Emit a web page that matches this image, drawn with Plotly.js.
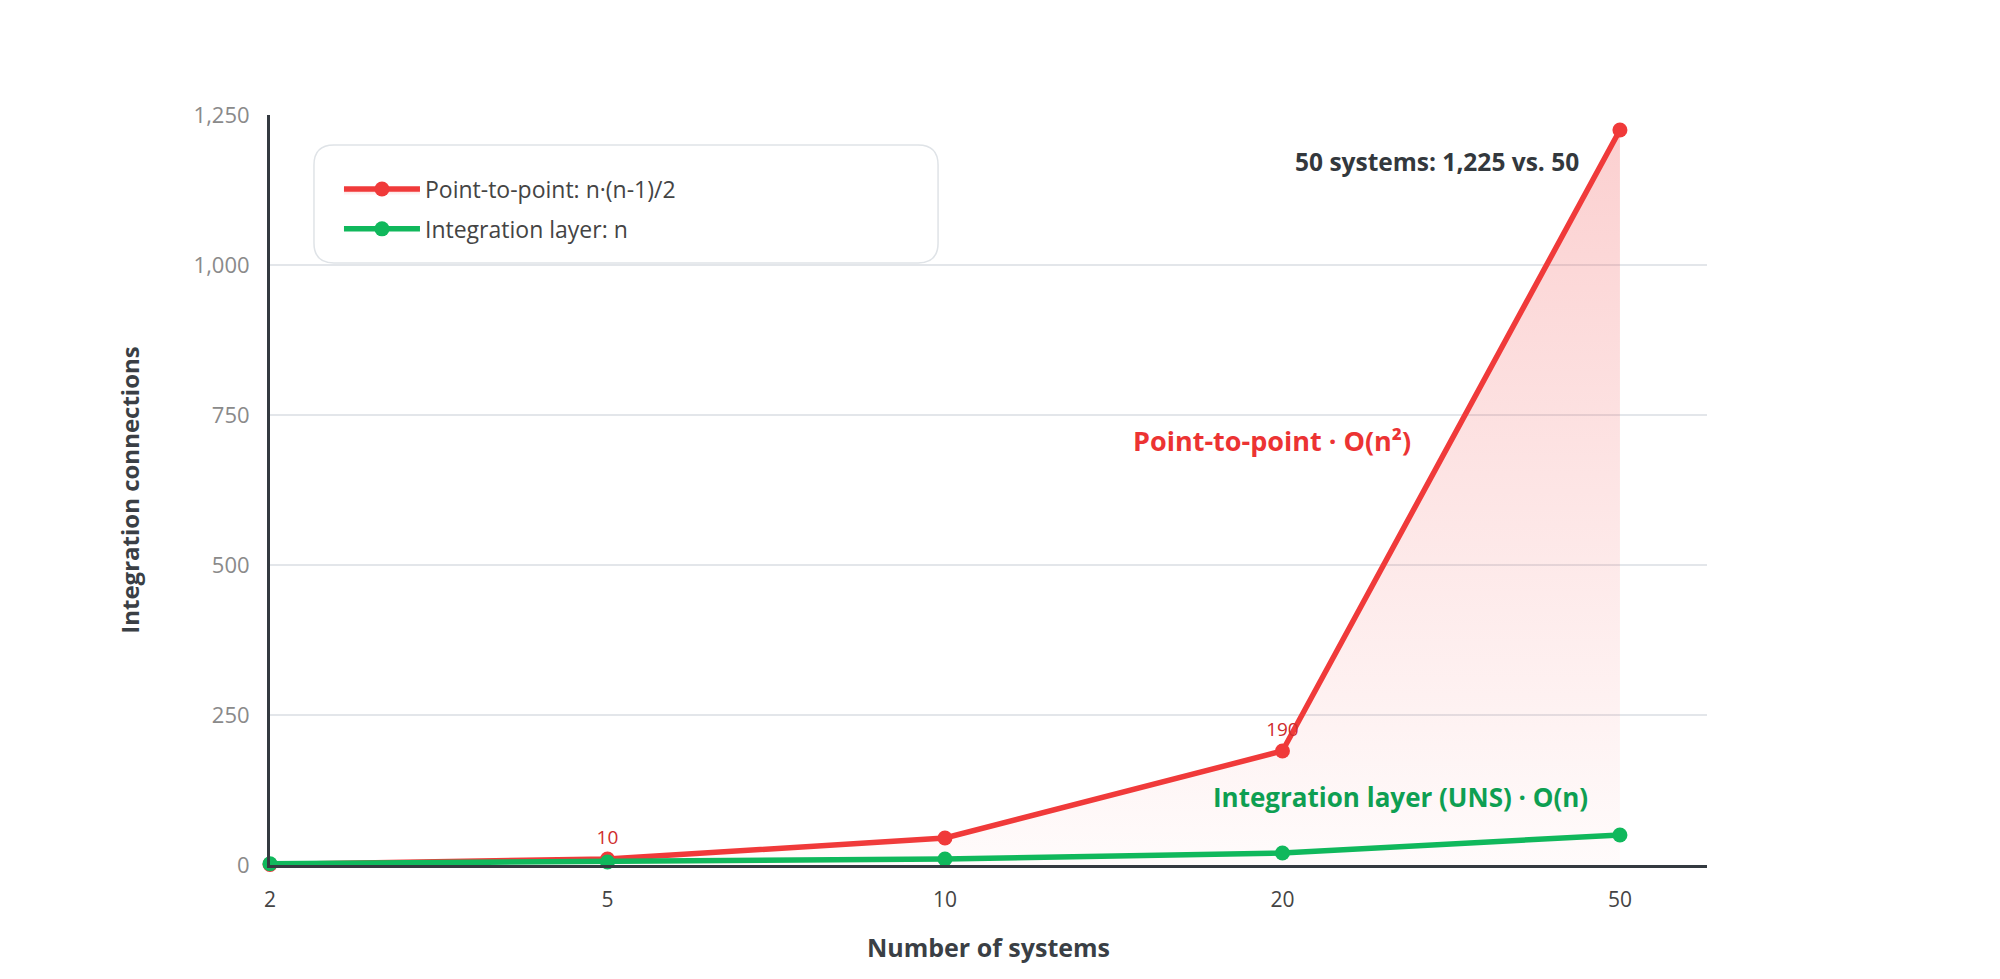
<!DOCTYPE html>
<html>
<head>
<meta charset="utf-8">
<script src="https://cdn.plot.ly/plotly-3.0.1.min.js"></script>
<style>html,body{margin:0;padding:0;background:#fff;}#chart{width:2000px;height:979px;}</style>
</head>
<body>
<div id="chart"></div>
<script>
const systems = ['2', '5', '10', '20', '50'];
const pointToPoint = [1, 10, 45, 190, 1225];
const integrationLayer = [2, 5, 10, 20, 50];
const p2pLabels = ['', '10', '', '190', ''];
const yTickVals = [0, 250, 500, 750, 1000, 1250];
const yTickText = ['0', '250', '500', '750', '1,000', '1,250'];

const RED = '#f03a3a';
const GREEN = '#10b85c';
const FONT = '"Open Sans", Lato, sans-serif';

const traces = [
  {
    x: systems, y: pointToPoint, name: 'Point-to-point: n·(n-1)/2',
    type: 'scatter', mode: 'lines+markers+text',
    text: p2pLabels, textposition: 'top center',
    textfont: {family: FONT, size: 19, color: '#cf2c2c'},
    line: {color: RED, width: 5.5},
    marker: {color: RED, size: 15},
    fill: 'tozeroy',
    fillgradient: {type: 'vertical', colorscale: [[0, 'rgba(240,58,58,0.02)'], [1, 'rgba(240,58,58,0.24)']]},
    cliponaxis: false, legendgroup: 'a', hoverinfo: 'x+y'
  },
  {
    x: systems, y: integrationLayer, name: 'Integration layer: n',
    type: 'scatter', mode: 'lines+markers',
    line: {color: GREEN, width: 5.5},
    marker: {color: GREEN, size: 15},
    cliponaxis: false, legendgroup: 'b', hoverinfo: 'x+y'
  }
];

// rounded legend frame in paper coords
function roundRect(x0, y0, x1, y1, rx, ry) {
  return `M${x0+rx},${y1} L${x1-rx},${y1} Q${x1},${y1} ${x1},${y1-ry} L${x1},${y0+ry} Q${x1},${y0} ${x1-rx},${y0} L${x0+rx},${y0} Q${x0},${y0} ${x0},${y0+ry} L${x0},${y1-ry} Q${x0},${y1} ${x0+rx},${y1} Z`;
}

const layout = {
  width: 2000, height: 979,
  paper_bgcolor: '#ffffff', plot_bgcolor: '#ffffff',
  margin: {l: 270, r: 293, t: 115, b: 114},
  font: {family: FONT, color: '#444'},
  showlegend: true,
  legend: {
    x: 0.048, y: 0.93, xanchor: 'left', yanchor: 'top',
    bgcolor: 'rgba(0,0,0,0)', borderwidth: 0,
    font: {family: FONT, size: 23, color: '#444'},
    traceorder: 'grouped', tracegroupgap: 7, itemwidth: 76
  },
  xaxis: {
    type: 'category', range: [0, 4.258],
    showgrid: false, zeroline: false,
    showline: true, linecolor: '#343a40', linewidth: 3,
    ticks: '', ticklabelstandoff: 14,
    tickfont: {family: FONT, size: 21, color: '#444'},
    title: {text: 'Number of systems', font: {family: FONT, size: 25, color: '#3a3f45', weight: 'bold'}, standoff: 28},
    fixedrange: true
  },
  yaxis: {
    range: [0, 1250],
    tickvals: yTickVals, ticktext: yTickText,
    showgrid: true, gridcolor: '#e3e6ea', gridwidth: 1.5,
    zeroline: false,
    showline: true, linecolor: '#343a40', linewidth: 3,
    ticks: '', ticklabelstandoff: 13,
    tickfont: {family: FONT, size: 22, color: '#8a8a8a'},
    title: {text: 'Integration connections', font: {family: FONT, size: 24, color: '#3a3f45', weight: 'bold'}, standoff: 48},
    fixedrange: true
  },
  shapes: [
    {type: 'path', xref: 'paper', yref: 'paper', layer: 'above',
     path: roundRect(0.0306, 0.8027, 0.4649, 0.96, 0.0139, 0.0267),
     fillcolor: 'rgba(255,255,255,0.97)', line: {color: '#dfe3e7', width: 1.5}}
  ],
  annotations: [
    {xref: 'x', yref: 'y', x: 3.884, y: 1172, xanchor: 'right', yanchor: 'middle', showarrow: false,
     text: '<b>50 systems: 1,225 vs. 50</b>', font: {family: FONT, size: 24.5, color: '#33383d'}},
    {xref: 'x', yref: 'y', x: 2.97, y: 708, xanchor: 'center', yanchor: 'middle', showarrow: false,
     text: '<b>Point-to-point · O(n²)</b>', font: {family: FONT, size: 27, color: '#ec3333'}},
    {xref: 'x', yref: 'y', x: 3.35, y: 113, xanchor: 'center', yanchor: 'middle', showarrow: false,
     text: '<b>Integration layer (UNS) · O(n)</b>', font: {family: FONT, size: 26, color: '#0e9f52'}}
  ]
};

Plotly.newPlot('chart', traces, layout, {displayModeBar: false});
</script>
</body>
</html>
